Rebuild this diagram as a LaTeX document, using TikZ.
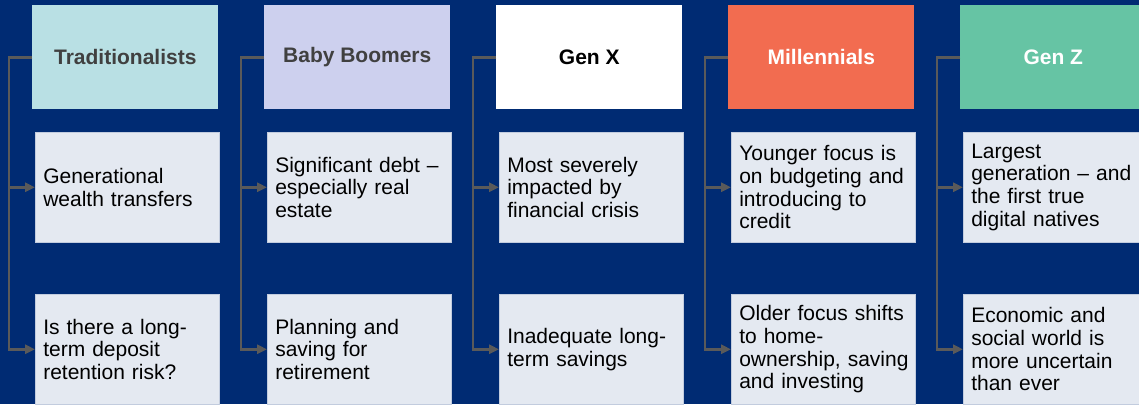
\documentclass[tikz,border=0pt]{standalone}
\usepackage{fontspec}
\setmainfont{Liberation Sans}
\usetikzlibrary{positioning,calc}
\usetikzlibrary{arrows.meta}
\definecolor{GenNavy}{RGB}{0,43,115}
\definecolor{TradTeal}{RGB}{185,224,228}
\definecolor{BoomLilac}{RGB}{205,208,238}
\definecolor{MillCoral}{RGB}{242,108,80}
\definecolor{ZedGreen}{RGB}{102,196,164}
\definecolor{NoteGray}{RGB}{228,233,241}
\definecolor{LinkGray}{RGB}{90,90,90}
\definecolor{HeadInk}{RGB}{64,64,64}
\hyphenpenalty=10000
\tikzset{
  head/.style={anchor=north west,inner sep=0pt,minimum width=139.5pt,minimum height=78pt,
    font=\fontsize{15.75}{17}\selectfont\bfseries},
  note/.style={anchor=north west,fill=NoteGray,draw=NoteGray!85!GenNavy,line width=0.4pt,
    inner xsep=6pt,inner ysep=0pt,text width=126pt,minimum height=82.5pt,align=left,
    font=\fontsize{15.75}{17}\selectfont},
  link/.style={draw=LinkGray,line width=1.9pt,-{Triangle[length=7.5pt,width=6.8pt]}},
}

\begin{document}
\begin{tikzpicture}[x=0.75pt,y=-0.75pt]
\fill[GenNavy] (0,0) rectangle (1139,404);
\useasboundingbox (0,0) rectangle (1139,404);

% headers
\node[head,fill=TradTeal,text=HeadInk] (trad) at (32,5) {Traditionalists};
\node[head,fill=BoomLilac,text=HeadInk] (boom) at (264,5) {Baby Boomers};
\node[head,fill=white,text=black] (genx) at (496,5) {Gen X};
\node[head,fill=MillCoral,text=white] (mill) at (728,5) {Millennials};
\node[head,fill=ZedGreen,text=white] (genz) at (960,5) {Gen Z};

% upper notes
\node[note] (tradA) at (35,132) {Generational\\wealth transfers};
\node[note] (boomA) at (267,132) {Significant debt --\\especially real\\estate};
\node[note] (genxA) at (499,132) {Most severely\\impacted by\\financial crisis};
\node[note] (millA) at (731,132) {Younger focus is\\on budgeting and\\introducing to\\credit};
\node[note] (genzA) at (963,132) {Largest\\generation -- and\\the first true\\digital natives};

% lower notes
\node[note] (tradB) at (35,294) {Is there a long-\\term deposit\\retention risk?};
\node[note] (boomB) at (267,294) {Planning and\\saving for\\retirement};
\node[note] (genxB) at (499,294) {Inadequate long-\\term savings};
\node[note] (millB) at (731,294) {Older focus shifts\\to home-\\\mbox{ownership, saving}\\and investing};
\node[note] (genzB) at (963,294) {Economic and\\social world is\\more uncertain\\than ever};

% connectors
\draw[link] (trad.west) -- ++(-23,0) |- (tradA.west);
\draw[link] (trad.west) -- ++(-23,0) |- (tradB.west);
\draw[link] (boom.west) -- ++(-23,0) |- (boomA.west);
\draw[link] (boom.west) -- ++(-23,0) |- (boomB.west);
\draw[link] (genx.west) -- ++(-23,0) |- (genxA.west);
\draw[link] (genx.west) -- ++(-23,0) |- (genxB.west);
\draw[link] (mill.west) -- ++(-23,0) |- (millA.west);
\draw[link] (mill.west) -- ++(-23,0) |- (millB.west);
\draw[link] (genz.west) -- ++(-23,0) |- (genzA.west);
\draw[link] (genz.west) -- ++(-23,0) |- (genzB.west);
\end{tikzpicture}
\end{document}
